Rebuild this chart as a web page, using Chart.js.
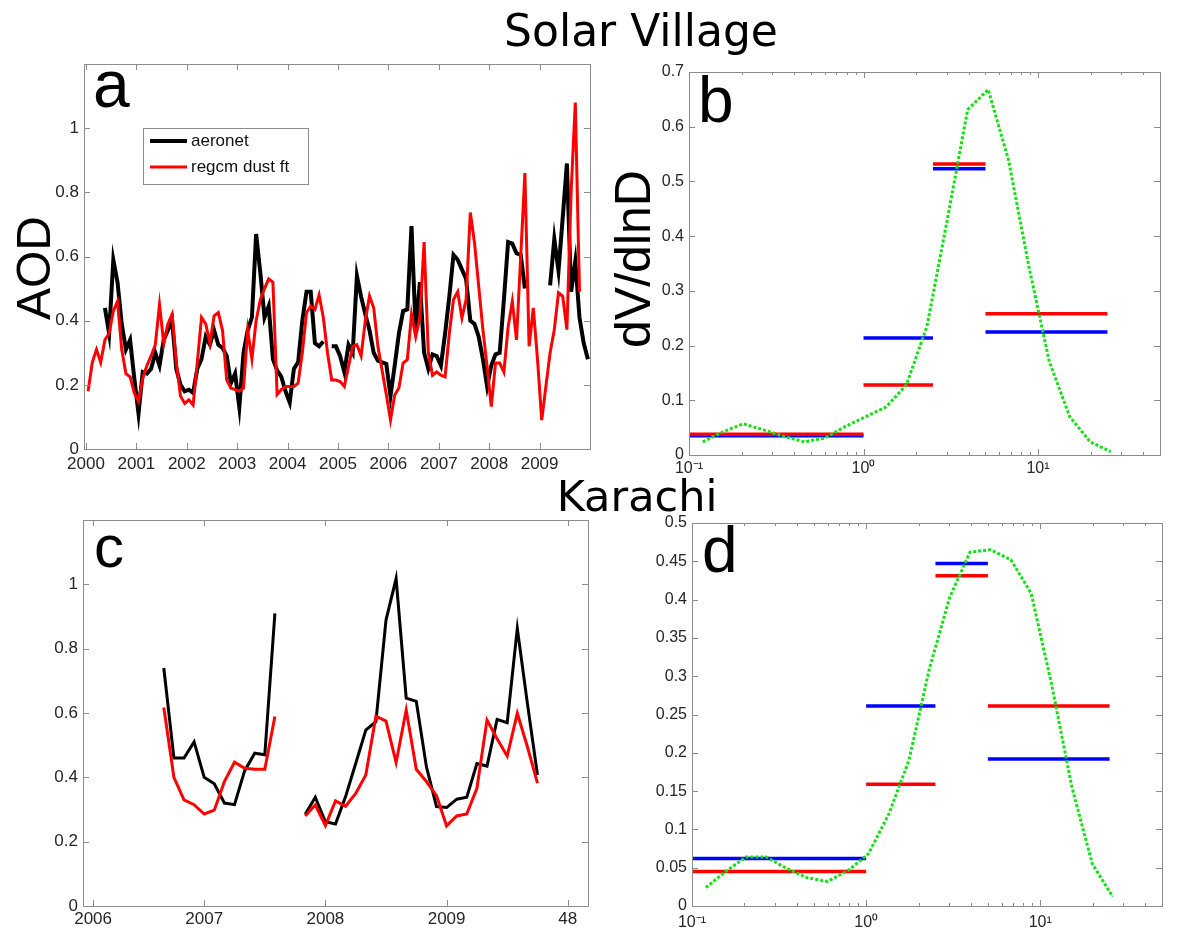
<!DOCTYPE html>
<html lang="en">
<head>
<meta charset="UTF-8">
<script src="https://cdn.jsdelivr.net/npm/chart.js"></script>
<title>Solar Village / Karachi</title>
<style>
  body { margin: 0; background: #fff; }
  #wrap { position: relative; width: 1200px; height: 934px; }
  #wrap canvas { position: absolute; left: 0; top: 0; }
</style>
</head>
<body>
<div id="wrap">
  <canvas id="chartA" width="1200" height="934"></canvas>
  <canvas id="chartB" width="1200" height="934"></canvas>
  <canvas id="chartC" width="1200" height="934"></canvas>
  <canvas id="chartD" width="1200" height="934"></canvas>
</div>
<script>
// ---- panel a: Solar Village monthly AOD, Jan 2000 .. Dec 2009 (index = month)
const startYearA = 2000;
const aeronetA = [
  null, null, null, null, 0.44, 0.36, 0.59, 0.52, 0.39, 0.31, 0.34, 0.22, 0.11, 0.24, 0.235, 0.25, 0.30, 0.26, 0.34, 0.37,
  0.40, 0.25, 0.20, 0.18, 0.185, 0.175, 0.25, 0.28, 0.35, 0.325, 0.37, 0.325, 0.315, 0.29, 0.205, 0.235, 0.13, 0.30, 0.37, 0.41,
  0.67, 0.55, 0.41, 0.445, 0.28, 0.245, 0.225, 0.18, 0.145, 0.25, 0.27, 0.40, 0.49, 0.49, 0.33, 0.32, 0.335, null, 0.32, 0.32,
  0.29, 0.24, 0.325, 0.30, 0.54, 0.475, 0.42, 0.37, 0.30, 0.275, 0.27, 0.265, 0.165, 0.26, 0.36, 0.43, 0.435, 0.695, 0.37, 0.52,
  0.30, 0.25, 0.295, 0.29, 0.26, 0.36, 0.475, 0.605, 0.59, 0.56, 0.53, 0.40, 0.39, 0.35, 0.28, 0.195, 0.26, 0.295, 0.30, 0.465,
  0.645, 0.64, 0.61, 0.605, 0.50, null, null, null, null, null, 0.51, 0.655, 0.555, 0.72, 0.89, 0.49, 0.585, 0.41, 0.33, 0.28
];
const regcmA = [
  0.18, 0.27, 0.31, 0.27, 0.34, 0.36, 0.43, 0.46, 0.31, 0.235, 0.225, 0.175, 0.148, 0.22, 0.26, 0.29, 0.325, 0.45, 0.33, 0.39,
  0.42, 0.27, 0.165, 0.142, 0.153, 0.137, 0.27, 0.41, 0.39, 0.33, 0.415, 0.425, 0.37, 0.215, 0.19, 0.185, 0.18, 0.19, 0.37, 0.28,
  0.40, 0.465, 0.50, 0.53, 0.52, 0.17, 0.185, 0.195, 0.195, 0.195, 0.205, 0.30, 0.425, 0.445, 0.435, 0.48, 0.41, 0.30, 0.215, 0.215,
  0.21, 0.195, 0.257, 0.32, 0.325, 0.29, 0.40, 0.477, 0.44, 0.32, 0.245, 0.17, 0.09, 0.168, 0.19, 0.268, 0.278, 0.42, 0.35, 0.41,
  0.645, 0.30, 0.23, 0.24, 0.23, 0.225, 0.36, 0.466, 0.49, 0.408, 0.466, 0.737, 0.643, 0.507, 0.372, 0.257, 0.132, 0.268, 0.268, 0.24,
  0.38, 0.46, 0.34, 0.60, 0.86, 0.32, 0.44, 0.28, 0.09, 0.195, 0.30, 0.372, 0.487, 0.476, 0.372, 0.80, 1.08, 0.49
];
const yearTicksA = [2000, 2001, 2002, 2003, 2004, 2005, 2006, 2007, 2008, 2009];
const aodTicks = [0, 0.2, 0.4, 0.6, 0.8, 1];

// ---- panel c: Karachi, month index (first value is month 8)
const startMonthC = 8;
const aeronetC = [0.74, 0.46, 0.46, 0.51, 0.40, 0.38, 0.32, 0.315, 0.42, 0.475, 0.47, 0.91, null, null,
  0.285, 0.338, 0.262, 0.255, 0.34, 0.443, 0.547, 0.573, 0.889, 1.018, 0.646, 0.636, 0.433, 0.309, 0.306, 0.332,
  0.338, 0.443, 0.435, 0.58, 0.57, 0.863, 0.63, 0.407];
const regcmC = [0.617, 0.40, 0.33, 0.315, 0.286, 0.298, 0.387, 0.447, 0.428, 0.425, 0.425, 0.589, null, null,
  0.28, 0.314, 0.25, 0.327, 0.31, 0.35, 0.407, 0.59, 0.575, 0.446, 0.609, 0.425, 0.387, 0.343, 0.249, 0.28,
  0.286, 0.366, 0.578, 0.52, 0.466, 0.599, 0.495, 0.382];
const monthTicksC = [1, 12, 24, 36, 48];
const monthLabelsC = ['2006', '2007', '2008', '2009', '48'];

// ---- panels b, d: size distributions
const diam = [0.12, 0.156, 0.204, 0.267, 0.35, 0.458, 0.6, 0.785, 1.03, 1.35, 1.76, 2.31, 3.02, 3.95, 5.18, 6.78, 8.87, 11.6, 15.2, 19.9, 26.1];
const greenB = [0.024, 0.042, 0.057, 0.046, 0.034, 0.024, 0.031, 0.052, 0.07, 0.088, 0.128, 0.235, 0.43, 0.631, 0.668, 0.539, 0.344, 0.171, 0.07, 0.024, 0.006];
const greenD = [0.024, 0.045, 0.064, 0.064, 0.049, 0.037, 0.032, 0.046, 0.068, 0.12, 0.19, 0.31, 0.403, 0.462, 0.465, 0.452, 0.408, 0.29, 0.155, 0.055, 0.012];
const binEdges = [0.1, 1, 2.5, 5, 25];
const blueB = [0.035, 0.214, 0.523, 0.225];
const redB = [0.038, 0.128, 0.532, 0.258];
const blueD = [0.062, 0.261, 0.447, 0.192];
const redD = [0.045, 0.159, 0.431, 0.261];
const logTicks = [0.1, 1, 10];
const logLabels = ['10⁻¹', '10⁰', '10¹'];
const logMinor = [0.2, 0.3, 0.4, 0.5, 0.6, 0.7, 0.8, 0.9, 2, 3, 4, 5, 6, 7, 8, 9, 20, 30, 40, 50];
const dvTicksB = [0, 0.1, 0.2, 0.3, 0.4, 0.5, 0.6, 0.7];
const dvTicksD = [0, 0.05, 0.1, 0.15, 0.2, 0.25, 0.3, 0.35, 0.4, 0.45, 0.5];

const BLACK = '#000000', RED = '#ff0000', BLUE = '#0000ff', GREEN = 'rgb(20,225,20)';
const SANS = '"Liberation Sans", Arial, sans-serif';

function binSegments(vals) {
  const pts = [];
  vals.forEach((v, i) => {
    pts.push({ x: binEdges[i], y: v }, { x: binEdges[i + 1], y: v }, { x: binEdges[i + 1], y: null });
  });
  return pts;
}

function framePlugin(minor) {
  return {
    id: 'frame',
    afterDraw(chart) {
      const { ctx, chartArea: a } = chart;
      const xs = chart.scales.x, ys = chart.scales.y;
      ctx.save();
      ctx.strokeStyle = '#8c8c8c';
      ctx.lineWidth = 1;
      ctx.strokeRect(Math.round(a.left) + 0.5, Math.round(a.top) + 0.5, Math.round(a.width), Math.round(a.height));
      const seg = (x1, y1, x2, y2) => { ctx.beginPath(); ctx.moveTo(x1, y1); ctx.lineTo(x2, y2); ctx.stroke(); };
      const xt = (v, len) => {
        const p = Math.round(xs.getPixelForValue(v)) + 0.5;
        seg(p, a.bottom, p, a.bottom - len); seg(p, a.top, p, a.top + len);
      };
      const yt = (v, len) => {
        const p = Math.round(ys.getPixelForValue(v)) + 0.5;
        seg(a.left, p, a.left + len, p); seg(a.right, p, a.right - len, p);
      };
      xs.ticks.forEach(t => xt(t.value, 6));
      ys.ticks.forEach(t => yt(t.value, 6));
      (minor || []).forEach(v => xt(v, 3));
      ctx.restore();
    }
  };
}

function panelOptions(area, xh, cfg) {
  return {
    responsive: false, animation: false, devicePixelRatio: 1, events: [],
    layout: { padding: { left: 0, top: area.t, right: 1200 - area.r, bottom: 934 - area.b - xh } },
    plugins: { legend: { display: false }, tooltip: { enabled: false } },
    elements: { point: { radius: 0 }, line: { tension: 0 } },
    scales: {
      x: {
        type: cfg.xType, min: cfg.xMin, max: cfg.xMax,
        grid: { display: false, drawTicks: false }, border: { display: false },
        ticks: { font: { family: SANS, size: cfg.font }, color: '#262626', padding: cfg.xPad,
                 autoSkip: false, maxRotation: 0, callback: cfg.xLabel },
        afterBuildTicks: s => { s.ticks = cfg.xTicks.map(v => ({ value: v })); },
        afterFit: s => { s.height = xh; }
      },
      y: {
        type: 'linear', min: 0, max: cfg.yMax,
        grid: { display: false, drawTicks: false }, border: { display: false },
        ticks: { font: { family: SANS, size: cfg.font }, color: '#262626', padding: 5,
                 callback: v => String(+(+v).toFixed(2)) },
        afterBuildTicks: s => { s.ticks = cfg.yTicks.map(v => ({ value: v })); },
        afterFit: s => { s.width = area.l; }
      }
    }
  };
}

// ---- legend inside panel a
const legendOrderA = ['aeronet', 'regcm dust ft'];
const legendPluginA = {
  id: 'legendA',
  afterDraw(chart) {
    const ctx = chart.ctx;
    ctx.save();
    ctx.fillStyle = '#fff';
    ctx.fillRect(143, 128, 165, 56);
    ctx.strokeStyle = '#8c8c8c'; ctx.lineWidth = 1;
    ctx.strokeRect(143.5, 128.5, 165, 56);
    legendOrderA.forEach((name, i) => {
      const ds = chart.data.datasets.find(d => d.label === name);
      const y = 141 + i * 26;
      ctx.strokeStyle = ds.borderColor; ctx.lineWidth = ds.borderWidth;
      ctx.beginPath(); ctx.moveTo(150, y); ctx.lineTo(187, y); ctx.stroke();
      ctx.fillStyle = '#111'; ctx.font = '17px ' + SANS; ctx.textBaseline = 'middle';
      ctx.fillText(name, 191, y);
    });
    ctx.restore();
  }
};

// ---- free text: titles, panel letters, axis titles
const texts = [
  { text: 'Solar Village', x: 641, y: 46, font: '44px "DejaVu Sans"', align: 'center' },
  { text: 'Karachi', x: 637, y: 511, font: '43px "DejaVu Sans"', align: 'center' },
  { text: 'a', x: 93, y: 107, font: '66px ' + SANS },
  { text: 'b', x: 698, y: 122, font: '64px ' + SANS },
  { text: 'c', x: 94, y: 567, font: '60px ' + SANS },
  { text: 'd', x: 702, y: 572, font: '64px ' + SANS },
  { text: 'AOD', x: 50, y: 268, font: '48px ' + SANS, align: 'center', rot: -Math.PI / 2 },
  { text: 'dV/dlnD', x: 650, y: 259, font: '50px ' + SANS, align: 'center', rot: -Math.PI / 2 }
];
const textPlugin = {
  id: 'texts',
  afterDraw(chart) {
    const ctx = chart.ctx;
    texts.forEach(it => {
      ctx.save();
      ctx.font = it.font; ctx.fillStyle = '#000';
      ctx.textAlign = it.align || 'left'; ctx.textBaseline = 'alphabetic';
      ctx.translate(it.x, it.y);
      if (it.rot) ctx.rotate(it.rot);
      ctx.fillText(it.text, 0, 0);
      ctx.restore();
    });
  }
};

// ---- panel a
new Chart(document.getElementById('chartA'), {
  type: 'line',
  data: {
    datasets: [
      { label: 'regcm dust ft', borderColor: RED, borderWidth: 3, spanGaps: false,
        data: regcmA.map((v, i) => ({ x: startYearA + (i + 0.5) / 12, y: v })) },
      { label: 'aeronet', borderColor: BLACK, borderWidth: 4, spanGaps: false,
        data: aeronetA.map((v, i) => ({ x: startYearA + (i + 0.5) / 12, y: v })) }
    ]
  },
  options: panelOptions({ l: 84, t: 64, r: 590, b: 449 }, 40, {
    xType: 'linear', xMin: 1999.96, xMax: 2010, xTicks: yearTicksA, xLabel: v => String(v), xPad: 5,
    yMax: 1.2, yTicks: aodTicks, font: 17
  }),
  plugins: [framePlugin(), legendPluginA]
});

// ---- panel b
new Chart(document.getElementById('chartB'), {
  type: 'line',
  data: {
    datasets: [
      { label: 'distribution', borderColor: GREEN, borderWidth: 3, borderDash: [3, 2],
        data: diam.map((d, i) => ({ x: d, y: greenB[i] })) },
      { label: 'red bins', borderColor: RED, borderWidth: 3.5, spanGaps: false, data: binSegments(redB) },
      { label: 'blue bins', borderColor: BLUE, borderWidth: 3.5, spanGaps: false, data: binSegments(blueB) }
    ]
  },
  options: panelOptions({ l: 689, t: 72, r: 1160, b: 455 }, 40, {
    xType: 'logarithmic', xMin: 0.1, xMax: 50, xTicks: logTicks, xLabel: v => logLabels[logTicks.indexOf(v)], xPad: 4,
    yMax: 0.7, yTicks: dvTicksB, font: 16
  }),
  plugins: [framePlugin(logMinor)]
});

// ---- panel c
new Chart(document.getElementById('chartC'), {
  type: 'line',
  data: {
    datasets: [
      { label: 'regcm dust ft', borderColor: RED, borderWidth: 3, spanGaps: false,
        data: regcmC.map((v, i) => ({ x: startMonthC + i, y: v })) },
      { label: 'aeronet', borderColor: BLACK, borderWidth: 3, spanGaps: false,
        data: aeronetC.map((v, i) => ({ x: startMonthC + i, y: v })) }
    ]
  },
  options: panelOptions({ l: 83, t: 520, r: 588, b: 906 }, 28, {
    xType: 'linear', xMin: 0, xMax: 50, xTicks: monthTicksC, xLabel: v => monthLabelsC[monthTicksC.indexOf(v)], xPad: 3,
    yMax: 1.2, yTicks: aodTicks, font: 17
  }),
  plugins: [framePlugin()]
});

// ---- panel d (also draws the free text on top)
new Chart(document.getElementById('chartD'), {
  type: 'line',
  data: {
    datasets: [
      { label: 'distribution', borderColor: GREEN, borderWidth: 3, borderDash: [3, 2],
        data: diam.map((d, i) => ({ x: d, y: greenD[i] })) },
      { label: 'red bins', borderColor: RED, borderWidth: 3.5, spanGaps: false, data: binSegments(redD) },
      { label: 'blue bins', borderColor: BLUE, borderWidth: 3.5, spanGaps: false, data: binSegments(blueD) }
    ]
  },
  options: panelOptions({ l: 692, t: 523, r: 1162, b: 906 }, 28, {
    xType: 'logarithmic', xMin: 0.1, xMax: 50, xTicks: logTicks, xLabel: v => logLabels[logTicks.indexOf(v)], xPad: 7,
    yMax: 0.5, yTicks: dvTicksD, font: 16
  }),
  plugins: [framePlugin(logMinor), textPlugin]
});
</script>
</body>
</html>
